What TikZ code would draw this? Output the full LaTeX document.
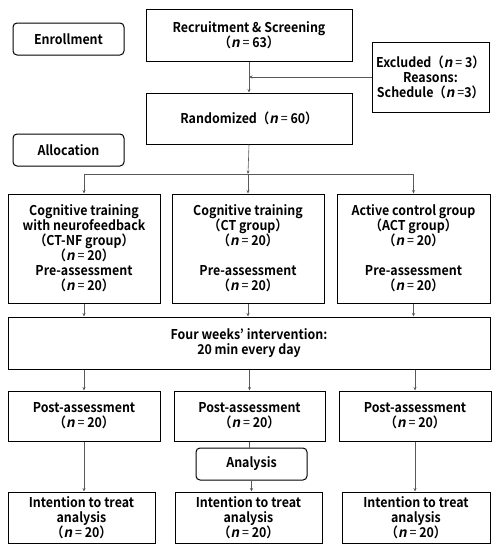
\documentclass[tikz,border=0pt]{standalone}
\usepackage{fontspec}
\setmainfont{Noto Sans CJK JP}[BoldFont=* Bold, FakeStretch=0.92]
\newfontfamily\nfont{Noto Sans CJK JP}[BoldFont=* Bold, FakeSlant=0.2]
\usetikzlibrary{arrows.meta}

% italic n and the equals sign
\newcommand{\nn}{{\nfont\bfseries n}}
\newcommand{\eq}{{\mdseries =}}

\tikzset{
    box/.style={draw, line width=1pt, align=center, inner sep=1pt,
        font=\fontsize{13.5}{15}\selectfont\bfseries},
    stage/.style={box, rounded corners=4pt},
    conn/.style={-{Stealth[length=3.5pt, width=3pt]}, line width=0.6pt, black!65},
    line/.style={line width=0.6pt, black!65}
}

\begin{document}
\begin{tikzpicture}[x=1pt, y=-1pt]

    \useasboundingbox (0,0) rectangle (496,550);

    %% Enrollment
    \node[stage, minimum width=111, minimum height=32] (enroll) at (68.5,39) {Enrollment};
    \node[box, minimum width=206, minimum height=52] (recruit) at (249,35) {Recruitment \& Screening\\（\nn{} \eq{} 63）};
    \node[box, minimum width=117, minimum height=70] (excl) at (430.5,77) {Excluded（\nn{} \eq{} 3）\\Reasons:\\Schedule（\nn{} \eq3）};
    \node[box, minimum width=206, minimum height=51] (rand) at (249,118.5) {Randomized（\nn{} \eq{} 60）};

    % Exclusion
    \draw[conn] (recruit.south) -- (rand.north);
    \draw[conn] (excl.west) -- (recruit.south |- excl.west);

    %% Allocation
    \node[stage, minimum width=111, minimum height=32] (alloc) at (68.5,150) {Allocation};

    % Groups
    \node[box, minimum width=152, minimum height=109] (ctnf) at (84,248.5) {Cognitive training\\with neurofeedback\\（CT-NF group）\\（\nn{} \eq{} 20）\\Pre-assessment\\（\nn{} \eq{} 20）};
    \node[box, minimum width=152, minimum height=109] (ct) at (248,248.5) {Cognitive training\\（CT group）\\（\nn{} \eq{} 20）\\[15pt]Pre-assessment\\（\nn{} \eq{} 20）};
    \node[box, minimum width=153, minimum height=109] (act) at (413.5,248.5) {Active control group\\（ACT group）\\（\nn{} \eq{} 20）\\[15pt]Pre-assessment\\（\nn{} \eq{} 20）};

    % Split to the groups
    \coordinate (split) at (248,174);
    \draw[conn] (rand.south) -- (split);
    \draw[line] (ctnf.north |- split) -- (act.north |- split);
    \foreach \g in {ctnf, ct, act}
        \draw[conn] (\g.north |- split) -- (\g.north);

    % Intervention
    \node[box, minimum width=482, minimum height=52] (interv) at (249,343) {Four weeks’ intervention:\\20 min every day};
    \foreach \g in {ctnf, ct, act}
        \draw[conn] (\g.south) -- (\g.south |- interv.north);

    %% Post-assessment
    \node[box, minimum width=152, minimum height=50] (postA) at (84,416) {Post-assessment\\（\nn{} \eq{} 20）};
    \node[box, minimum width=151, minimum height=50] (postB) at (249.5,416) {Post-assessment\\（\nn{} \eq{} 20）};
    \node[box, minimum width=152, minimum height=50] (postC) at (415,416) {Post-assessment\\（\nn{} \eq{} 20）};
    \foreach \p in {postA, postB, postC}
        \draw[conn] (\p.north |- interv.south) -- (\p.north);

    %% Analysis
    \node[stage, minimum width=111, minimum height=32] (anal) at (251.5,464) {Analysis};
    \node[box, minimum width=147, minimum height=51] (ittA) at (81.5,517.5) {Intention to treat\\analysis\\（\nn{} \eq{} 20）};
    \node[box, minimum width=147, minimum height=51] (ittB) at (248.5,517.5) {Intention to treat\\analysis\\（\nn{} \eq{} 20）};
    \node[box, minimum width=148, minimum height=51] (ittC) at (416,517.5) {Intention to treat\\analysis\\（\nn{} \eq{} 20）};

    \draw[conn] (postA.south) -- (postA.south |- ittA.north);
    \draw[line] (postB.south) -- (postB.south |- anal.north);
    \draw[conn] (anal.south) -- (anal.south |- ittB.north);
    \draw[conn] (postC.south) -- (postC.south |- ittC.north);

\end{tikzpicture}
\end{document}
